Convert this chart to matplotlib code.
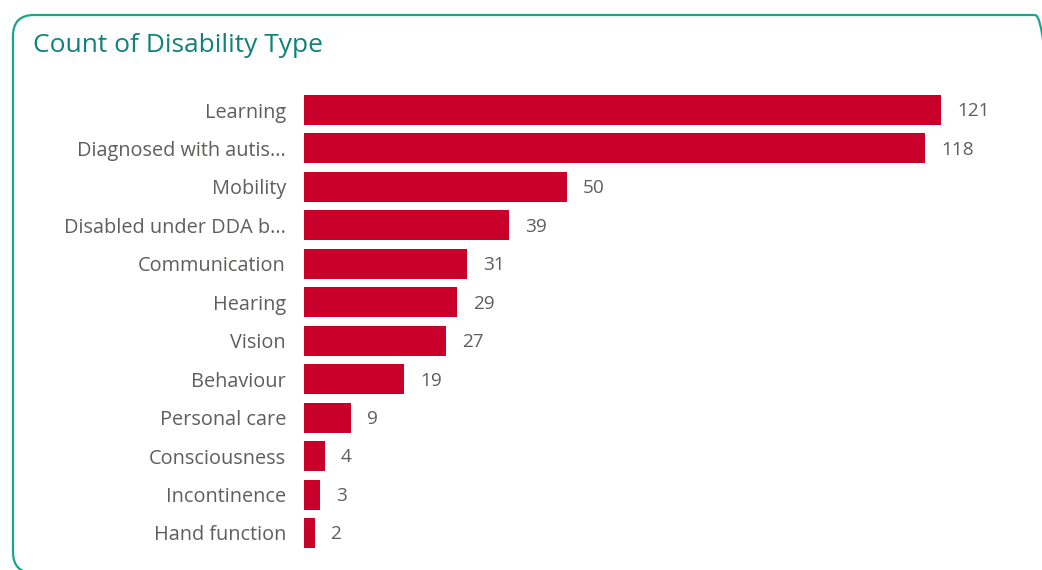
import matplotlib.pyplot as plt
from matplotlib.patches import FancyBboxPatch
from matplotlib.transforms import IdentityTransform

categories = ["Learning", "Diagnosed with autis...", "Mobility", "Disabled under DDA b...",
              "Communication", "Hearing", "Vision", "Behaviour", "Personal care",
              "Consciousness", "Incontinence", "Hand function"]
counts = [121, 118, 50, 39, 31, 29, 27, 19, 9, 4, 3, 2]

W, H, DPI = 1042, 570, 100
BAR_RED = "#C8002A"
TEAL = "#1AA58A"
GREY = "#605E5C"

plt.rcParams['font.family'] = ['Open Sans', 'DejaVu Sans']

fig = plt.figure(figsize=(W / DPI, H / DPI), dpi=DPI)

# rounded card outline, in pixel coordinates (runs off the right and bottom edges)
card = FancyBboxPatch((13, -3), 1043, 558, boxstyle="round,pad=0,rounding_size=21",
                      transform=IdentityTransform(), fill=False, edgecolor=TEAL,
                      linewidth=1.6, figure=fig)
fig.patches.append(card)

fig.text(33 / W, 1 - 45 / H, "Count of Disability Type", fontsize=19, color="#11817A",
         ha="left", va="center")

# axes: left at x=304, 5.264 px per unit, rows 38.45 px apart
left, right = 304, 304 + 140 * 5.264
top, bottom = 90.8, 552.2
ax = fig.add_axes([left / W, 1 - bottom / H, (right - left) / W, (bottom - top) / H])

y = range(len(categories))
ax.barh(y, counts, height=0.78, color=BAR_RED)
ax.set_xlim(0, 140)
ax.set_ylim(len(categories) - 0.5, -0.5)
ax.set_yticks(list(y))
ax.set_yticklabels(categories, fontsize=14.3, color=GREY)
ax.tick_params(axis="y", length=0, pad=13)
ax.set_xticks([])
for s in ax.spines.values():
    s.set_visible(False)

for i, v in enumerate(counts):
    ax.annotate(str(v), (v, i), xytext=(11.5, -1), textcoords="offset points",
                va="center", ha="left", fontsize=13.7, color=GREY)

fig.savefig("out.png", dpi=DPI)
